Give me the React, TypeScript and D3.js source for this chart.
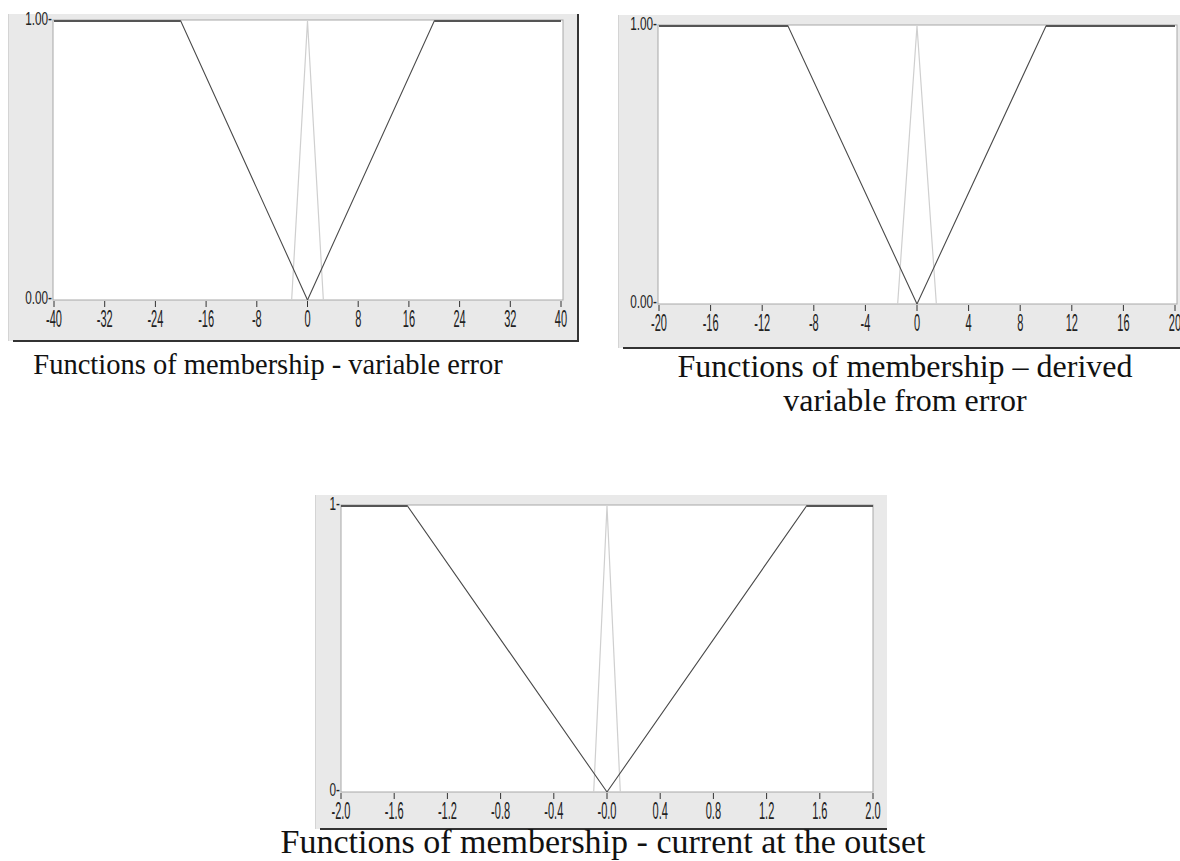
import React from "react";
import * as d3 from "d3";

// membership functions
const errTicks = [-40, -32, -24, -16, -8, 0, 8, 16, 24, 32, 40];
const errTickLabels = ["-40", "-32", "-24", "-16", "-8", "0", "8", "16", "24", "32", "40"];
const errNeg = [[-40, 1], [-20, 1], [0, 0]];
const errPos = [[0, 0], [20, 1], [40, 1]];
const errZero = [[-2.5, 0], [0, 1], [2.5, 0]];

const derTicks = [-20, -16, -12, -8, -4, 0, 4, 8, 12, 16, 20];
const derTickLabels = ["-20", "-16", "-12", "-8", "-4", "0", "4", "8", "12", "16", "20"];
const derNeg = [[-20, 1], [-10, 1], [0, 0]];
const derPos = [[0, 0], [10, 1], [20, 1]];
const derZero = [[-1.5, 0], [0, 1], [1.5, 0]];

const curTicks = [-2.0, -1.6, -1.2, -0.8, -0.4, 0, 0.4, 0.8, 1.2, 1.6, 2.0];
const curTickLabels = ["-2.0", "-1.6", "-1.2", "-0.8", "-0.4", "-0.0", "0.4", "0.8", "1.2", "1.6", "2.0"];
const curNeg = [[-2, 1], [-1.5, 1], [0, 0]];
const curPos = [[0, 0], [1.5, 1], [2, 1]];
const curZero = [[-0.1, 0], [0, 1], [0.1, 0]];

type Pt = number[];

type PanelProps = {
  box: { x0: number; y0: number; x1: number; y1: number };
  plot: { x0: number; x1: number; y0: number; y1: number; xr: [number, number] };
  domain: [number, number];
  ticks: number[];
  tickLabels: string[];
  yLabels: [string, string];
  dark: Pt[][];
  light: Pt[];
  rightBorder?: boolean;
};

function Panel(p: PanelProps) {
  const x = d3.scaleLinear().domain(p.domain).range(p.plot.xr);
  const y = d3.scaleLinear().domain([0, 1]).range([p.plot.y1, p.plot.y0]);
  const line = d3.line<Pt>().x((d) => x(d[0])).y((d) => y(d[1]));
  const { box, plot } = p;
  return (
    <g>
      <rect x={box.x0} y={box.y0} width={box.x1 - box.x0} height={box.y1 - box.y0} fill="#e9e9e9" />
      <line x1={box.x0 + 0.5} x2={box.x0 + 0.5} y1={box.y0} y2={box.y1} stroke="#d4d4d4" />
      <rect x={plot.x0} y={plot.y0 - 1} width={plot.x1 - plot.x0} height={plot.y1 - plot.y0 + 1} fill="#fff" stroke="#a8a8a8" strokeWidth={1} />
      <path d={line(p.light) || ""} fill="none" stroke="#cfcfcf" strokeWidth={1.2} />
      {p.dark.map((s, i) => (
        <path key={i} d={line(s) || ""} fill="none" stroke="#4a4a4a" strokeWidth={1.1} />
      ))}
      {p.dark.map((s, i) => (
        <path key={"t" + i} d={line(s.filter((d) => d[1] === 1)) || ""} fill="none" stroke="#555" strokeWidth={2.2} />
      ))}
      {p.ticks.map((t, i) => (
        <g key={t}>
          <line x1={x(t)} x2={x(t)} y1={plot.y1 + 1} y2={plot.y1 + 7} stroke="#333" />
          <g transform={`translate(${x(t)},${plot.y1 + 27}) scale(0.48,1)`}>
            <text textAnchor="middle" fontFamily="Liberation Sans, Arial, sans-serif" fontSize={23} fill="#222">
              {p.tickLabels[i]}
            </text>
          </g>
        </g>
      ))}
      {[1, 0].map((v, i) => (
        <g key={v} transform={`translate(${plot.x0 - 1},${y(v) + 4}) scale(0.62,1)`}>
          <text textAnchor="end" fontFamily="Liberation Sans, Arial, sans-serif" fontSize={19} fill="#222">
            {p.yLabels[i] + "-"}
          </text>
        </g>
      ))}
      <line x1={box.x0 + 5} x2={box.x1} y1={box.y1} y2={box.y1} stroke="#333" strokeWidth={2} />
      {p.rightBorder && <line x1={box.x1} x2={box.x1} y1={box.y0} y2={box.y1 + 1} stroke="#333" strokeWidth={2} />}
    </g>
  );
}

const titleFont = "Liberation Serif, Times New Roman, serif";

export default function App() {
  return (
    <svg width={1180} height={861} style={{ position: "absolute", left: 0, top: 0 }}>
      <rect width={1180} height={861} fill="#fff" />
      <Panel
        box={{ x0: 8, y0: 14, x1: 578, y1: 341 }}
        plot={{ x0: 53, x1: 563, y0: 21, y1: 300, xr: [54, 561] }}
        domain={[-40, 40]}
        ticks={errTicks}
        tickLabels={errTickLabels}
        yLabels={["1.00", "0.00"]}
        dark={[errNeg, errPos]}
        light={errZero}
        rightBorder
      />
      <Panel
        box={{ x0: 618, y0: 15, x1: 1185, y1: 348 }}
        plot={{ x0: 658, x1: 1177, y0: 26, y1: 304, xr: [659, 1175] }}
        domain={[-20, 20]}
        ticks={derTicks}
        tickLabels={derTickLabels}
        yLabels={["1.00", "0.00"]}
        dark={[derNeg, derPos]}
        light={derZero}
      />
      <Panel
        box={{ x0: 315, y0: 495, x1: 887, y1: 829 }}
        plot={{ x0: 341, x1: 873, y0: 506, y1: 792, xr: [341, 873] }}
        domain={[-2, 2]}
        ticks={curTicks}
        tickLabels={curTickLabels}
        yLabels={["1", "0"]}
        dark={[curNeg, curPos]}
        light={curZero}
      />
      <g fontFamily={titleFont} fill="#111" textAnchor="middle">
        <text x={268} y={374} fontSize={28.5}>Functions of membership - variable error</text>
        <text x={905} y={377} fontSize={32}>Functions of membership – derived</text>
        <text x={905} y={411} fontSize={32}>variable from error</text>
        <text x={603} y={853} fontSize={34}>Functions of membership - current at the outset</text>
      </g>
    </svg>
  );
}
